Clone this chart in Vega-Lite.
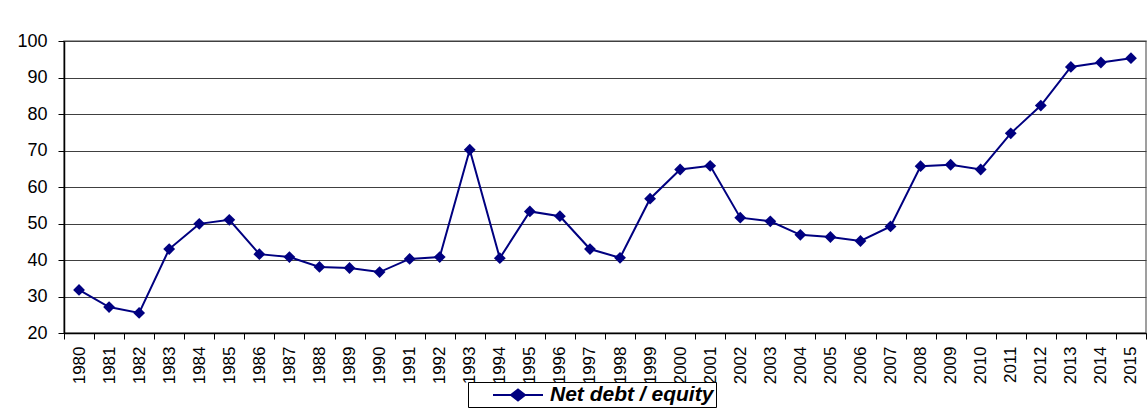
{
  "$schema": "https://vega.github.io/schema/vega-lite/v6.json",
  "autosize": "none",
  "width": 1082,
  "height": 292,
  "padding": {"left": 64, "top": 41, "right": 1, "bottom": 75},
  "background": "white",
  "config": {
    "font": "Liberation Sans",
    "view": {"stroke": "#808080", "strokeWidth": 1.5}
  },
  "data": {
    "values": [
      {"year": "1980", "value": 31.8, "series": "Net debt / equity"},
      {"year": "1981", "value": 27.1, "series": "Net debt / equity"},
      {"year": "1982", "value": 25.5, "series": "Net debt / equity"},
      {"year": "1983", "value": 43.0, "series": "Net debt / equity"},
      {"year": "1984", "value": 49.9, "series": "Net debt / equity"},
      {"year": "1985", "value": 51.0, "series": "Net debt / equity"},
      {"year": "1986", "value": 41.6, "series": "Net debt / equity"},
      {"year": "1987", "value": 40.8, "series": "Net debt / equity"},
      {"year": "1988", "value": 38.1, "series": "Net debt / equity"},
      {"year": "1989", "value": 37.8, "series": "Net debt / equity"},
      {"year": "1990", "value": 36.7, "series": "Net debt / equity"},
      {"year": "1991", "value": 40.3, "series": "Net debt / equity"},
      {"year": "1992", "value": 40.8, "series": "Net debt / equity"},
      {"year": "1993", "value": 70.2, "series": "Net debt / equity"},
      {"year": "1994", "value": 40.5, "series": "Net debt / equity"},
      {"year": "1995", "value": 53.3, "series": "Net debt / equity"},
      {"year": "1996", "value": 52.0, "series": "Net debt / equity"},
      {"year": "1997", "value": 43.0, "series": "Net debt / equity"},
      {"year": "1998", "value": 40.6, "series": "Net debt / equity"},
      {"year": "1999", "value": 56.8, "series": "Net debt / equity"},
      {"year": "2000", "value": 64.8, "series": "Net debt / equity"},
      {"year": "2001", "value": 65.8, "series": "Net debt / equity"},
      {"year": "2002", "value": 51.6, "series": "Net debt / equity"},
      {"year": "2003", "value": 50.6, "series": "Net debt / equity"},
      {"year": "2004", "value": 46.9, "series": "Net debt / equity"},
      {"year": "2005", "value": 46.3, "series": "Net debt / equity"},
      {"year": "2006", "value": 45.2, "series": "Net debt / equity"},
      {"year": "2007", "value": 49.2, "series": "Net debt / equity"},
      {"year": "2008", "value": 65.7, "series": "Net debt / equity"},
      {"year": "2009", "value": 66.1, "series": "Net debt / equity"},
      {"year": "2010", "value": 64.8, "series": "Net debt / equity"},
      {"year": "2011", "value": 74.7, "series": "Net debt / equity"},
      {"year": "2012", "value": 82.3, "series": "Net debt / equity"},
      {"year": "2013", "value": 92.9, "series": "Net debt / equity"},
      {"year": "2014", "value": 94.1, "series": "Net debt / equity"},
      {"year": "2015", "value": 95.3, "series": "Net debt / equity"}
    ]
  },
  "encoding": {
    "x": {
      "field": "year",
      "type": "ordinal",
      "scale": {"paddingInner": 0, "paddingOuter": 0},
      "axis": {
        "title": null,
        "labelAngle": -90,
        "labelFontSize": 17,
        "labelColor": "#000000",
        "labelPadding": 7,
        "tickBand": "extent",
        "tickSize": 6,
        "tickColor": "#000000",
        "domainColor": "#000000",
        "domainWidth": 1.5,
        "grid": false
      }
    },
    "y": {
      "field": "value",
      "type": "quantitative",
      "scale": {"domain": [20, 100], "nice": false, "zero": false},
      "axis": {
        "title": null,
        "values": [20, 30, 40, 50, 60, 70, 80, 90, 100],
        "labelFontSize": 18,
        "labelColor": "#000000",
        "labelPadding": 11,
        "tickSize": 6,
        "tickColor": "#000000",
        "domainColor": "#000000",
        "domainWidth": 1.5,
        "grid": true,
        "gridColor": "#404040",
        "gridWidth": 1.2,
        "gridOpacity": 1
      }
    },
    "color": {
      "field": "series",
      "type": "nominal",
      "scale": {"range": ["#000080"]},
      "legend": {
        "title": null,
        "orient": "none",
        "legendX": 404,
        "legendY": 341,
        "padding": 2,
        "strokeColor": "#000000",
        "fillColor": "#ffffff",
        "symbolType": "M1.2,0L6.2,0M3.7,-0.55L4.4,0L3.7,0.55L3.0,0Z",
        "symbolSize": 400,
        "symbolStrokeWidth": 2,
        "symbolStrokeColor": "#000080",
        "symbolFillColor": "#000080",
        "labelFontSize": 21,
        "labelFontWeight": "bold",
        "labelFontStyle": "italic",
        "labelColor": "#000000",
        "labelOffset": 58,
        "labelLimit": 400,
        "labelExpr": "datum.label + '\u00a0\u00a0\u00a0\u00a0\u00a0'",
        "encode": {
          "symbols": {"update": {"fill": {"value": "#000080"}, "stroke": {"value": "#000080"}, "strokeWidth": {"value": 2}}}
        }
      }
    }
  },
  "layer": [
    {"mark": {"type": "line", "strokeWidth": 2}},
    {"mark": {"type": "point", "shape": "diamond", "filled": true, "size": 140, "opacity": 1}}
  ]
}
